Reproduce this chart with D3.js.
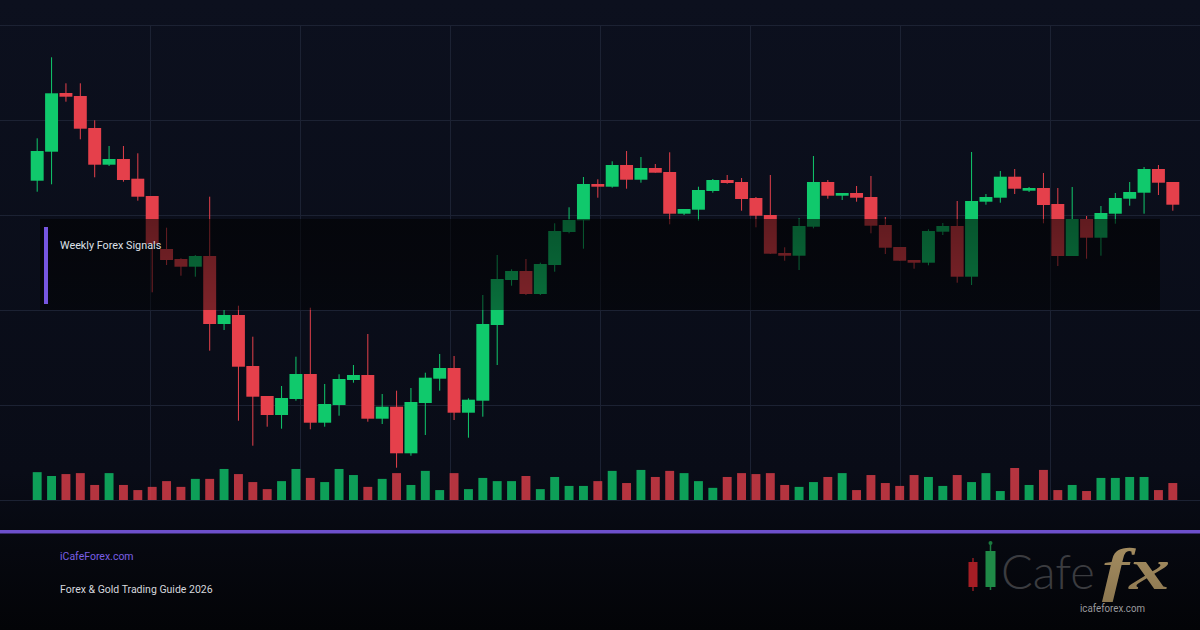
<!DOCTYPE html>
<html>
<head>
<meta charset="utf-8">
<script src="https://d3js.org/d3.v7.min.js"></script>
<style>
  html, body { margin: 0; padding: 0; background: #05060b; }
  svg { display: block; }
</style>
</head>
<body>
<div id="chart"></div>
<script>
// weekly candles (gold-ish prices)
var opens  = [2319.3,2348.3,2407.0,2404.0,2372.0,2335.3,2341.0,2321.3,2304.0,2251.0,
              2241.0,2233.3,2244.0,2176.0,2185.0,2134.0,2104.0,2085.0,2101.0,2126.0,
              2077.3,2095.0,2120.0,2125.0,2081.3,2093.3,2046.7,2097.0,2121.3,2132.0,
              2087.3,2099.3,2175.0,2220.0,2229.0,2206.0,2235.0,2268.0,2279.7,2316.0,
              2313.3,2335.0,2320.3,2332.0,2328.0,2286.3,2290.3,2309.0,2320.0,2318.0,
              2302.0,2285.0,2247.0,2244.3,2273.3,2318.0,2304.3,2307.0,2303.0,2275.0,
              2253.0,2240.0,2237.3,2268.3,2274.0,2223.3,2298.3,2302.3,2323.3,2309.3,
              2312.0,2296.0,2244.0,2281.0,2262.3,2286.3,2301.3,2307.3,2331.0,2318.0];
var highs  = [2361.7,2442.7,2416.7,2416.7,2379.7,2354.0,2354.0,2346.7,2304.0,2272.3,
              2241.7,2245.0,2303.3,2190.0,2194.3,2163.3,2104.0,2114.0,2143.3,2192.3,
              2116.0,2125.7,2135.0,2166.0,2106.0,2109.3,2112.0,2127.3,2146.0,2144.0,
              2101.7,2205.0,2245.0,2230.7,2241.0,2237.3,2276.7,2292.7,2323.0,2320.7,
              2338.7,2349.0,2343.0,2336.0,2347.7,2291.0,2313.3,2321.0,2325.0,2322.0,
              2303.0,2325.0,2252.7,2281.7,2344.0,2320.0,2307.0,2314.0,2324.0,2283.0,
              2253.0,2240.0,2270.7,2277.0,2299.0,2348.0,2306.0,2329.0,2331.0,2313.0,
              2327.0,2312.0,2313.0,2284.0,2294.0,2307.0,2318.0,2333.0,2335.0,2318.0];
var lows   = [2308.3,2315.7,2398.3,2360.7,2322.7,2334.0,2318.3,2299.3,2207.7,2235.0,
              2224.3,2223.3,2149.3,2170.0,2079.3,2054.3,2073.3,2071.3,2099.3,2070.7,
              2073.3,2084.3,2117.3,2078.3,2076.0,2032.3,2044.3,2065.0,2109.3,2080.0,
              2062.3,2083.3,2135.0,2214.3,2205.0,2205.0,2228.3,2266.7,2251.3,2302.3,
              2312.3,2311.3,2317.3,2327.3,2275.7,2285.0,2279.3,2307.3,2316.3,2289.3,
              2272.7,2246.0,2239.3,2230.0,2271.7,2301.3,2300.0,2298.3,2266.7,2246.0,
              2239.3,2231.3,2234.7,2265.0,2217.3,2215.0,2295.3,2297.3,2306.0,2308.0,
              2276.7,2234.0,2244.0,2241.3,2244.3,2276.3,2294.3,2286.3,2305.0,2289.3];
var closes = [2349.0,2406.7,2403.3,2371.3,2335.3,2341.0,2320.0,2303.3,2256.0,2240.0,
              2233.3,2244.0,2176.0,2185.0,2133.3,2103.3,2085.0,2102.0,2126.0,2077.3,
              2096.0,2121.0,2125.0,2081.3,2093.3,2046.7,2098.0,2122.3,2132.0,2087.3,
              2100.3,2176.0,2221.0,2229.0,2206.0,2236.0,2269.0,2280.0,2316.0,2313.3,
              2335.0,2320.3,2332.0,2327.3,2286.3,2291.0,2310.0,2320.0,2317.0,2301.0,
              2284.3,2246.3,2244.3,2274.0,2318.0,2304.3,2307.0,2302.3,2274.3,2252.3,
              2239.3,2237.3,2269.0,2274.0,2223.3,2299.0,2303.0,2323.3,2311.3,2312.0,
              2295.0,2244.0,2281.0,2262.3,2287.0,2302.0,2308.0,2331.0,2317.3,2295.3];
var volumes = [87,75,81,84,47,84,47,31,41,59, 41,66,66,97,81,56,34,59,97,69,
               56,97,78,41,66,84,47,91,31,84, 34,69,59,59,75,34,72,44,44,59,
               91,53,94,72,91,84,59,38,72,84, 81,84,47,41,56,72,84,31,78,53,
               44,78,72,44,78,56,84,28,100,47, 94,31,47,28,69,69,72,72,31,53];

var boxLabel = "Weekly Forex Signals";
var siteName = "iCafeForex.com";
var subTitle = "Forex & Gold Trading Guide 2026";

var width = 1200, height = 630;
var up = "#10c96c", down = "#e5404b";
var purple = "#6d50cc";

var svg = d3.select("#chart").append("svg")
    .attr("width", width)
    .attr("height", height);

var defs = svg.append("defs");
var bg = defs.append("linearGradient").attr("id", "bg")
    .attr("x1", 0).attr("y1", 0).attr("x2", 0).attr("y2", 1);
bg.append("stop").attr("offset", "0%").attr("stop-color", "#0c101e");
bg.append("stop").attr("offset", "75%").attr("stop-color", "#090c17");
bg.append("stop").attr("offset", "100%").attr("stop-color", "#030407");

var shade = defs.append("linearGradient").attr("id", "shade")
    .attr("x1", 0).attr("y1", 0).attr("x2", 0).attr("y2", 1);
shade.append("stop").attr("offset", "0%").attr("stop-color", "#000").attr("stop-opacity", 0.58);
shade.append("stop").attr("offset", "100%").attr("stop-color", "#000").attr("stop-opacity", 0.45);

var gold = defs.append("linearGradient").attr("id", "gold")
    .attr("x1", 0).attr("y1", 0).attr("x2", 0).attr("y2", 1);
gold.append("stop").attr("offset", "0%").attr("stop-color", "#a89063");
gold.append("stop").attr("offset", "100%").attr("stop-color", "#8c7750");

svg.append("rect").attr("width", width).attr("height", height).attr("fill", "url(#bg)");

// scales
var idx = d3.range(opens.length);
var x = d3.scaleBand().domain(idx).range([30, 1180]);
var y = d3.scaleLinear().domain([2000, 2475]).range([500, 25]);
var yv = d3.scaleLinear().domain([0, 100]).range([500, 468]);
var gx = d3.scaleLinear().domain([0, 8]).range([0, 1200]);
var gy = d3.scaleLinear().domain([0, 5]).range([25, 500]);
function cx(i) { return x(i) + x.bandwidth() / 2; }

// grid
var grid = svg.append("g").attr("stroke", "#1c2233").attr("stroke-width", 1);
grid.selectAll(".v").data(gx.ticks(8).slice(1, -1)).enter().append("line")
    .attr("x1", function(d) { return Math.round(gx(d)) + 0.5; })
    .attr("x2", function(d) { return Math.round(gx(d)) + 0.5; })
    .attr("y1", gy(0)).attr("y2", gy(5));
grid.selectAll(".h").data(gy.ticks(5)).enter().append("line")
    .attr("x1", 0).attr("x2", width)
    .attr("y1", function(d) { return Math.round(gy(d)) + 0.5; })
    .attr("y2", function(d) { return Math.round(gy(d)) + 0.5; });

// volume
var vw = x.bandwidth() * 0.62;
svg.append("g").selectAll("rect").data(idx).enter().append("rect")
    .attr("x", function(i) { return cx(i) - vw / 2; })
    .attr("width", vw)
    .attr("y", function(i) { return yv(volumes[i]); })
    .attr("height", function(i) { return yv(0) - yv(volumes[i]); })
    .attr("fill", function(i) { return closes[i] >= opens[i] ? up : down; })
    .attr("opacity", 0.78);

// candles
var bw = x.bandwidth() * 0.9;
var candle = svg.append("g").selectAll("g").data(idx).enter().append("g")
    .attr("fill", function(i) { return closes[i] >= opens[i] ? up : down; })
    .attr("stroke", function(i) { return closes[i] >= opens[i] ? up : down; });
candle.append("line")
    .attr("x1", cx).attr("x2", cx)
    .attr("y1", function(i) { return y(highs[i]); })
    .attr("y2", function(i) { return y(lows[i]); })
    .attr("stroke-width", 1);
candle.append("rect")
    .attr("stroke", "none")
    .attr("x", function(i) { return cx(i) - bw / 2; })
    .attr("width", bw)
    .attr("y", function(i) { return y(Math.max(opens[i], closes[i])); })
    .attr("height", function(i) { return Math.max(1.5, Math.abs(y(opens[i]) - y(closes[i]))); });

// signals box
svg.append("rect").attr("x", 40).attr("y", 219).attr("width", 1120).attr("height", 91)
    .attr("fill", "url(#shade)");
svg.append("rect").attr("x", 44).attr("y", 227).attr("width", 4).attr("height", 77)
    .attr("fill", "#7656e0");
svg.append("text").attr("x", 60).attr("y", 249)
    .attr("font-family", "Roboto, 'Noto Sans', sans-serif").attr("font-size", 10.8)
    .attr("fill", "#dde0e8").text(boxLabel);

// footer
svg.append("rect").attr("x", 0).attr("y", 530).attr("width", width).attr("height", 3.5)
    .attr("fill", purple);
svg.append("text").attr("x", 60).attr("y", 560)
    .attr("font-family", "Roboto, 'Noto Sans', sans-serif").attr("font-size", 10.5)
    .attr("fill", "#7a5fe3").text(siteName);
svg.append("text").attr("x", 60).attr("y", 593)
    .attr("font-family", "Roboto, 'Noto Sans', sans-serif").attr("font-size", 10.5)
    .attr("fill", "#d6d8de").text(subTitle);

// logo
var logo = svg.append("g");
logo.append("line").attr("x1", 973).attr("x2", 973).attr("y1", 558).attr("y2", 591)
    .attr("stroke", "#8e1c22").attr("stroke-width", 1.5);
logo.append("rect").attr("x", 968.5).attr("y", 562).attr("width", 9).attr("height", 25)
    .attr("fill", "#a61e25");
logo.append("line").attr("x1", 990.5).attr("x2", 990.5).attr("y1", 543).attr("y2", 590)
    .attr("stroke", "#1b7a3f").attr("stroke-width", 1.5);
logo.append("circle").attr("cx", 990.5).attr("cy", 543).attr("r", 2).attr("fill", "#1b7a3f");
logo.append("rect").attr("x", 985.5).attr("y", 551).attr("width", 10).attr("height", 36)
    .attr("fill", "#1f8a47");
logo.append("text").attr("x", 1001).attr("y", 589)
    .attr("font-family", "Lato, 'Open Sans', sans-serif").attr("font-weight", 300)
    .attr("font-size", 47)
    .attr("fill", "#3b3c40").text("Cafe");
logo.append("text").attr("x", 1102).attr("y", 589)
    .attr("font-family", "'Liberation Serif', 'DejaVu Serif', serif")
    .attr("font-style", "italic").attr("font-weight", "bold")
    .attr("font-size", 60).attr("textLength", 68).attr("lengthAdjust", "spacingAndGlyphs")
    .attr("fill", "url(#gold)").text("fx");
logo.append("text").attr("x", 1080).attr("y", 612)
    .attr("font-family", "Roboto, sans-serif").attr("font-size", 10.5)
    .attr("textLength", 65).attr("lengthAdjust", "spacingAndGlyphs")
    .attr("fill", "#9a9a9e").text("icafeforex.com");
</script>
</body>
</html>
